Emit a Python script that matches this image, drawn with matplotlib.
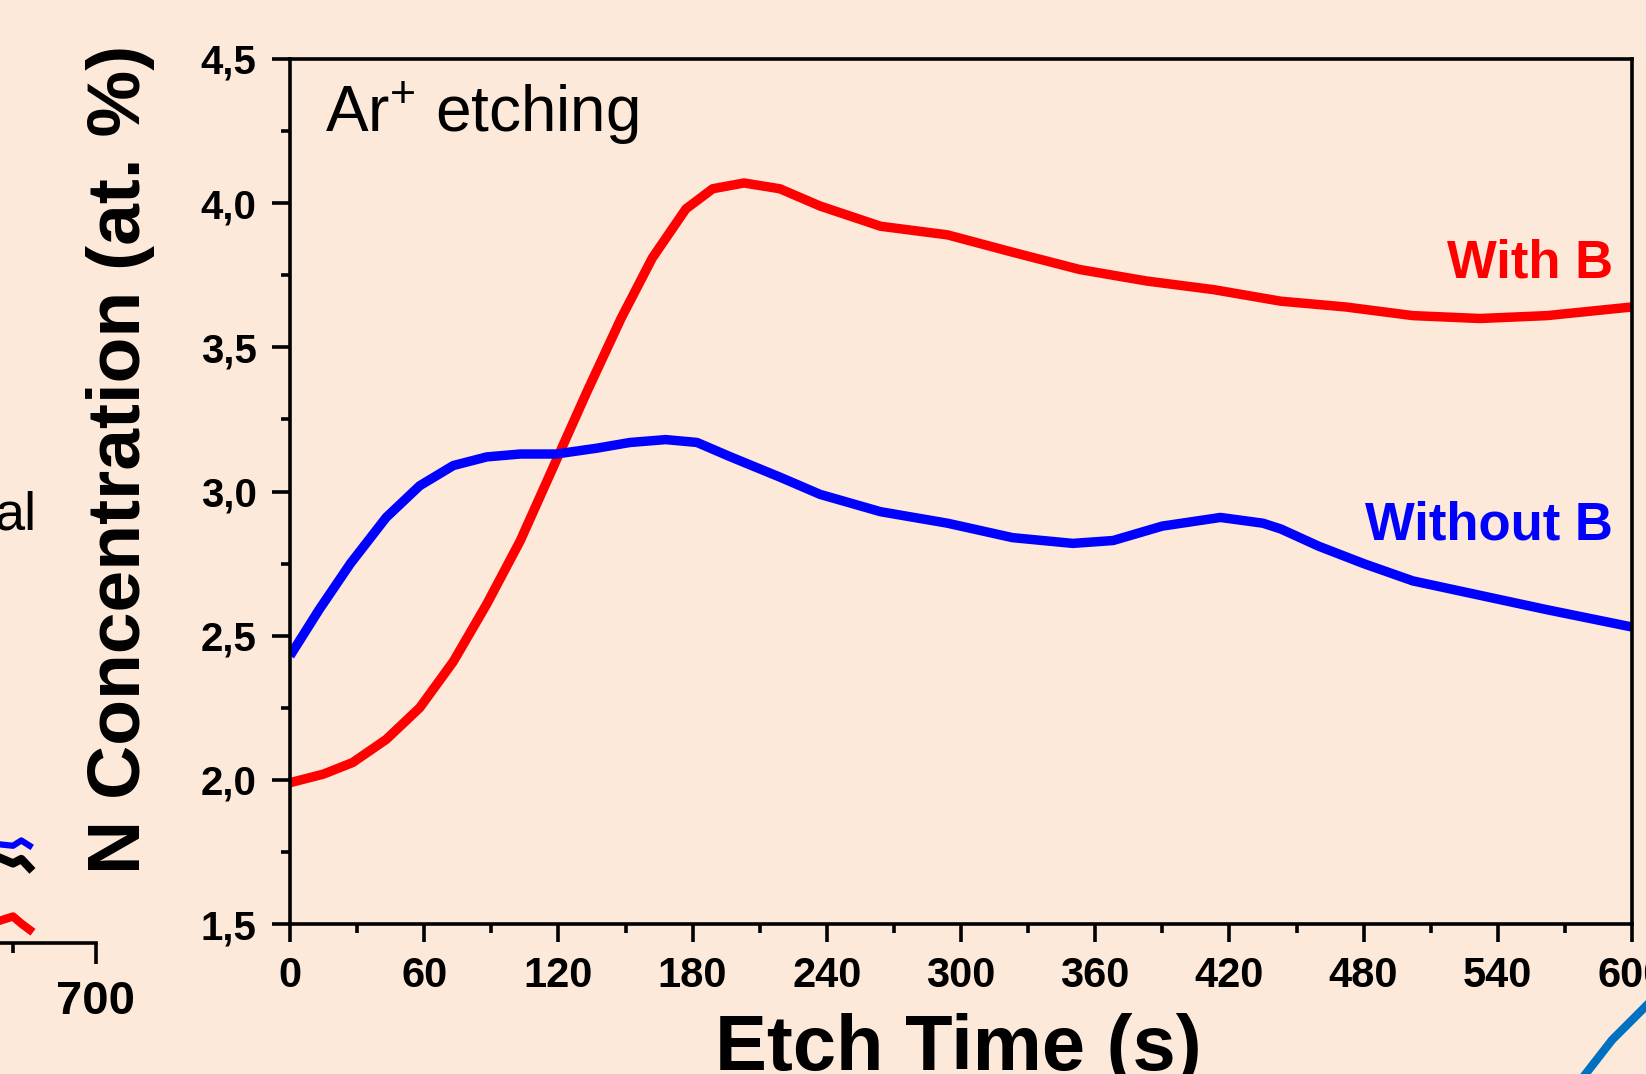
import matplotlib
matplotlib.use("Agg")
import matplotlib.pyplot as plt
from matplotlib.lines import Line2D
from matplotlib.ticker import MultipleLocator, FuncFormatter

# ---- data ----
time_with_b = [0, 15, 28, 43, 58, 73, 88, 103, 118, 133, 148, 162, 177, 189, 203, 219,
               237, 264, 294, 323, 353, 383, 413, 443, 472, 502, 532, 562, 600]
with_b = [1.99, 2.02, 2.06, 2.14, 2.25, 2.41, 2.61, 2.83, 3.09, 3.35, 3.60, 3.81, 3.98,
          4.05, 4.07, 4.05, 3.99, 3.92, 3.89, 3.83, 3.77, 3.73, 3.70, 3.66, 3.64, 3.61,
          3.60, 3.61, 3.64]
time_without_b = [0, 13, 27, 43, 58, 73, 88, 103, 119, 137, 152, 168, 182, 197, 219, 237,
                  264, 294, 323, 350, 368, 390, 416, 435, 443, 460, 480, 502, 532, 562, 600]
without_b = [2.43, 2.59, 2.75, 2.91, 3.02, 3.09, 3.12, 3.13, 3.13, 3.15, 3.17, 3.18, 3.17,
             3.12, 3.05, 2.99, 2.93, 2.89, 2.84, 2.82, 2.83, 2.88, 2.91, 2.89, 2.87, 2.81,
             2.75, 2.69, 2.64, 2.59, 2.53]
x_ticks = [0, 60, 120, 180, 240, 300, 360, 420, 480, 540, 600]
y_ticks = [1.5, 2.0, 2.5, 3.0, 3.5, 4.0, 4.5]

# fragment of the neighbouring panel (left edge of the slide)
left_x = [630, 640, 650, 655, 660]
left_blue = [0.108, 0.112, 0.110, 0.116, 0.110]
left_black = [0.092, 0.098, 0.090, 0.095, 0.085]
left_red = [0.018, 0.024, 0.030, 0.022, 0.015]

BG = "#FDE9D9"
W, H = 1646, 1074
plt.rcParams['font.family'] = ['Liberation Sans', 'DejaVu Sans']
plt.rcParams['mathtext.default'] = 'regular'

fig = plt.figure(figsize=(W / 100, H / 100), dpi=100, facecolor=BG)

def fx(px):
    return px / W

def fy(py):
    return 1 - py / H

# ---- main axes ----
ax = fig.add_axes([fx(290), fy(924), fx(1632) - fx(290), fy(59) - fy(924)])
ax.set_facecolor(BG)
ax.plot(time_with_b, with_b, color="#FF0000", lw=6.8, solid_joinstyle='round',
        solid_capstyle='butt')
ax.plot(time_without_b, without_b, color="#0000FF", lw=6.8, solid_joinstyle='round',
        solid_capstyle='butt')
ax.set_xlim(0, 600)
ax.set_ylim(1.5, 4.5)
ax.set_xticks(x_ticks)
ax.set_yticks(y_ticks)
ax.xaxis.set_minor_locator(MultipleLocator(30))
ax.yaxis.set_minor_locator(MultipleLocator(0.25))
ax.yaxis.set_major_formatter(FuncFormatter(lambda v, p: f"{v:.1f}".replace('.', ',')))
for s in ax.spines.values():
    s.set_linewidth(2.6)
ax.tick_params(which='major', direction='out', length=13, width=2.6)
ax.tick_params(which='minor', direction='out', length=6.5, width=2.6)
ax.tick_params(axis='x', pad=10, labelsize=30)
ax.tick_params(axis='y', pad=11, labelsize=29)
for lab in ax.get_xticklabels() + ax.get_yticklabels():
    lab.set_fontweight('bold')

fig.text(fx(325), fy(132), "Ar$^{+}$ etching", fontsize=46, va='baseline', ha='left')
fig.text(fx(1613), fy(278), "With B", fontsize=38, fontweight='bold', color="#FF0000",
         ha='right', va='baseline')
fig.text(fx(1613), fy(539), "Without B", fontsize=38, fontweight='bold', color="#0000FF",
         ha='right', va='baseline')

fig.text(fx(140), fy(459), "N Concentration (at. %)", fontsize=54, fontweight='bold',
         rotation=90, ha='center', va='baseline', rotation_mode='anchor')
fig.text(fx(715), fy(1070), "Etch Time (s)", fontsize=56, fontweight='bold',
         ha='left', va='baseline')

# ---- fragment of neighbouring panel ----
ax2 = fig.add_axes([fx(96 - 1162), fy(943), fx(1162), fy(59) - fy(943)])
ax2.patch.set_alpha(0)
ax2.set_xlim(0, 700)
ax2.set_ylim(0, 1)
ax2.plot(left_x, left_black, color='black', lw=6)
ax2.plot(left_x, left_blue, color='#0000FF', lw=4.5)
ax2.plot(left_x, left_red, color='#FF0000', lw=6)
for k in ['top', 'left', 'right']:
    ax2.spines[k].set_visible(False)
ax2.spines['bottom'].set_linewidth(2.6)
ax2.set_yticks([])
ax2.set_xticks([700])
ax2.set_xticklabels(["700"])
ax2.xaxis.set_minor_locator(MultipleLocator(50))
ax2.tick_params(which='major', direction='out', length=15, width=2.6, labelsize=34, pad=12)
ax2.tick_params(which='minor', direction='out', length=7, width=2.6)
for lab in ax2.get_xticklabels():
    lab.set_fontweight('bold')
fig.text(fx(37), fy(530), "al", fontsize=39, ha='right', va='baseline')

# ---- decorative arc at bottom right ----
fig.add_artist(Line2D([fx(1584), fx(1612), fx(1646)], [fy(1076), fy(1040), fy(1006)],
                      transform=fig.transFigure, color="#0070C0", lw=6))

fig.savefig("out.png", dpi=100, facecolor=BG)
